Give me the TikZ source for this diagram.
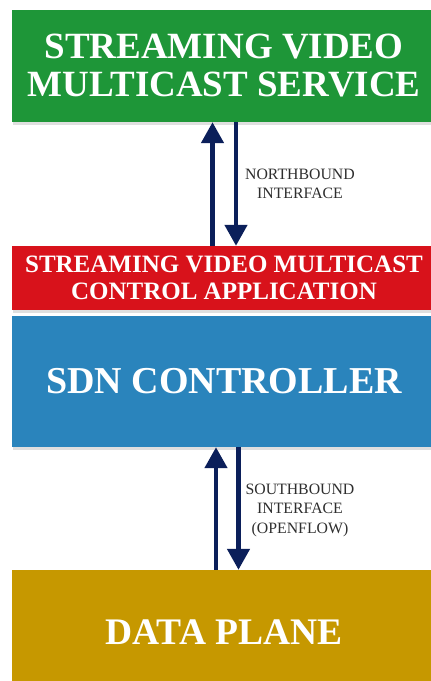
\documentclass[tikz,border=0pt]{standalone}
\usepackage{fontspec}
\setmainfont{Liberation Serif}
\usetikzlibrary{arrows.meta,shadows}
\definecolor{svcgreen}{HTML}{1E9638}
\definecolor{appred}{HTML}{D8121B}
\definecolor{ctlblue}{HTML}{2A84BC}
\definecolor{dpgold}{HTML}{C69800}
\definecolor{arrnavy}{HTML}{0B1F5A}
\definecolor{lbl}{HTML}{2E2E2E}
\tikzset{
  layer/.style={rectangle, draw=none, text=white, align=center, inner sep=0pt,
    font=\bfseries, minimum width=424pt,
    drop shadow={opacity=0.25, shadow xshift=1pt, shadow yshift=-2.5pt}},
  iface/.style={-{Triangle[width=22pt,length=21pt]}, line width=4.6pt, draw=arrnavy},
  ifacelabel/.style={align=center, text=lbl, font=\fontsize{15.8}{19.5}\selectfont}
}
\begin{document}
\begin{tikzpicture}[x=1pt,y=-1pt]
\useasboundingbox (0,0) rectangle (431,681);
\fill[white] (0,0) rectangle (431,681);

% protocol stack layers
\node[layer, fill=svcgreen, minimum height=112pt,
  font=\bfseries\fontsize{37}{38}\selectfont] (svc) at (224,66)
  {STREAMING VIDEO\\MULTICAST SERVICE};
\node[layer, fill=appred, minimum height=64pt,
  font=\bfseries\fontsize{25}{27}\selectfont] (app) at (224,278)
  {STREAMING VIDEO MULTICAST\\CONTROL APPLICATION};
\node[layer, fill=ctlblue, minimum height=131pt,
  font=\bfseries\fontsize{38}{40}\selectfont] (ctl) at (224,381.5)
  {SDN CONTROLLER};
\node[layer, fill=dpgold, minimum height=124pt,
  font=\bfseries\fontsize{37.5}{40}\selectfont] (dp) at (224,632)
  {DATA PLANE};

% arrow columns
\coordinate (nup) at (212.5,0);
\coordinate (ndn) at (236,0);
\coordinate (sup) at (216,0);
\coordinate (sdn) at (238.5,0);

% northbound interface
\draw[iface] (nup |- app.north) -- (nup |- svc.south);
\draw[iface] (ndn |- svc.south) -- (ndn |- app.north);
\node[ifacelabel] (nlbl) at (300,184) {NORTHBOUND\\INTERFACE};

% southbound interface
\draw[iface] (sup |- dp.north) -- (sup |- ctl.south);
\draw[iface] (sdn |- ctl.south) -- (sdn |- dp.north);
\node[ifacelabel] (slbl) at (300,510) {SOUTHBOUND\\INTERFACE\\(OPENFLOW)};
\end{tikzpicture}
\end{document}
